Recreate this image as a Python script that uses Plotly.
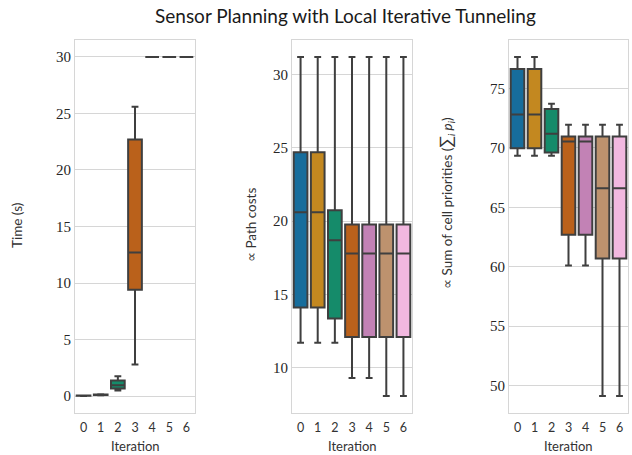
import colorsys
import plotly.graph_objects as go

W, H = 632, 455

iterations = [0, 1, 2, 3, 4, 5, 6]
tick_labels = ["0", "1", "2", "3", "4", "5", "6"]

# Time (s)
time_low = [0.01, 0.08, 0.50, 2.8, 30.0, 30.0, 30.0]
time_q1 = [0.02, 0.10, 0.66, 9.4, 30.0, 30.0, 30.0]
time_med = [0.03, 0.12, 0.95, 12.7, 30.0, 30.0, 30.0]
time_q3 = [0.04, 0.14, 1.38, 22.7, 30.0, 30.0, 30.0]
time_high = [0.05, 0.16, 1.75, 25.6, 30.0, 30.0, 30.0]

# Path costs
cost_low = [11.7, 11.7, 11.7, 9.3, 9.3, 8.07, 8.07]
cost_q1 = [14.1, 14.1, 13.35, 12.1, 12.1, 12.1, 12.1]
cost_med = [20.6, 20.6, 18.7, 17.8, 17.8, 17.8, 17.8]
cost_q3 = [24.7, 24.7, 20.75, 19.77, 19.77, 19.77, 19.77]
cost_high = [31.2, 31.2, 31.2, 31.2, 31.2, 31.2, 31.2]

# Sum of cell priorities
prio_low = [69.33, 69.33, 69.33, 60.1, 60.1, 49.13, 49.13]
prio_q1 = [69.97, 69.97, 69.6, 62.7, 62.7, 60.7, 60.7]
prio_med = [72.8, 72.8, 71.18, 70.53, 70.53, 66.6, 66.6]
prio_q3 = [76.63, 76.63, 73.26, 70.96, 70.96, 70.96, 70.96]
prio_high = [77.64, 77.64, 73.7, 71.94, 71.94, 71.94, 71.94]

palette = ["#0173b2", "#de8f05", "#029e73", "#d55e00", "#cc78bc", "#ca9161", "#fbafe4"]


def desat(hexc, prop=0.75):
    r, g, b = (int(hexc[i:i + 2], 16) / 255 for i in (1, 3, 5))
    h, l, s = colorsys.rgb_to_hls(r, g, b)
    r, g, b = colorsys.hls_to_rgb(h, l, s * prop)
    return "#%02x%02x%02x" % (round(r * 255), round(g * 255), round(b * 255))


colors = [desat(c) for c in palette]


def px(x):
    return x / W


def py(y):
    return 1 - y / H


panels = [
    dict(low=time_low, q1=time_q1, med=time_med, q3=time_q3, high=time_high,
         x0=75, x1=195, yr=[-1.5, 31.5], tv=[0, 5, 10, 15, 20, 25, 30]),
    dict(low=cost_low, q1=cost_q1, med=cost_med, q3=cost_q3, high=cost_high,
         x0=292, x1=412, yr=[6.91, 32.36], tv=[10, 15, 20, 25, 30]),
    dict(low=prio_low, q1=prio_q1, med=prio_med, q3=prio_q3, high=prio_high,
         x0=509, x1=628, yr=[47.7, 79.07], tv=[50, 55, 60, 65, 70, 75]),
]

y_top, y_bot = 40, 413
fig = go.Figure()
layout = dict(width=W, height=H, margin=dict(l=0, r=0, t=0, b=0),
              paper_bgcolor="white", plot_bgcolor="white", showlegend=False,
              boxmode="overlay")

edge = "#3f3f3f"
grid = "#d6d6d6"
for k, p in enumerate(panels):
    xa = "x" if k == 0 else f"x{k+1}"
    ya = "y" if k == 0 else f"y{k+1}"
    for i in iterations:
        fig.add_trace(go.Box(
            x=[i], q1=[p["q1"][i]], median=[p["med"][i]], q3=[p["q3"][i]],
            lowerfence=[p["low"][i]], upperfence=[p["high"][i]],
            width=0.8, whiskerwidth=0.5, fillcolor=colors[i],
            line=dict(color=edge, width=2), boxpoints=False,
            xaxis=xa, yaxis=ya, hoverinfo="skip"))
    xkey = "xaxis" if k == 0 else f"xaxis{k+1}"
    ykey = "yaxis" if k == 0 else f"yaxis{k+1}"
    layout[xkey] = dict(domain=[px(p["x0"]), px(p["x1"])], anchor=ya,
                        range=[-0.5, 6.5], tickvals=iterations, ticktext=tick_labels,
                        showgrid=False, zeroline=False, showline=True, mirror=True,
                        linecolor=grid, linewidth=1, ticks="outside", ticklen=3,
                        tickcolor="rgba(0,0,0,0)",
                        tickfont=dict(family="Lato", size=12.5, color="#333333"))
    layout[ykey] = dict(domain=[py(y_bot), py(y_top)], anchor=xa,
                        range=p["yr"], tickvals=p["tv"], showgrid=True, gridcolor=grid,
                        gridwidth=1, zeroline=False, showline=True, mirror=True,
                        linecolor=grid, linewidth=1, ticks="",
                        tickfont=dict(family="Liberation Serif", size=15, color="#262626"))

fig.update_layout(**layout)

ann = []
ann.append(dict(text="Sensor Planning with Local Iterative Tunneling", x=px(345), y=py(16),
                xref="paper", yref="paper", showarrow=False, xanchor="center", yanchor="middle",
                font=dict(family="Lato", size=19, color="#1a1a1a")))
for p in panels:
    ann.append(dict(text="Iteration", x=px((p["x0"] + p["x1"]) / 2), y=py(446),
                    xref="paper", yref="paper", showarrow=False,
                    xanchor="center", yanchor="middle",
                    font=dict(family="Lato", size=13, color="#333333")))
ylabels = [("Time (s)", 17, 226), ("∝ Path costs", 251, 225),
           ("∝ Sum of cell priorities (<span style='font-size:17px'>∑</span>"
            "<sub><i>i</i></sub> <i>p<sub>i</sub></i>)", 446, 203)]
for txt, xpos, ypos in ylabels:
    ann.append(dict(text=txt, x=px(xpos), y=py(ypos), xref="paper", yref="paper",
                    showarrow=False, textangle=-90, xanchor="center", yanchor="middle",
                    font=dict(family="Lato", size=13.5, color="#333333")))
fig.update_layout(annotations=ann)

fig.write_html("out.html", config={"displayModeBar": False},
               post_script="document.body.style.margin='0';")
